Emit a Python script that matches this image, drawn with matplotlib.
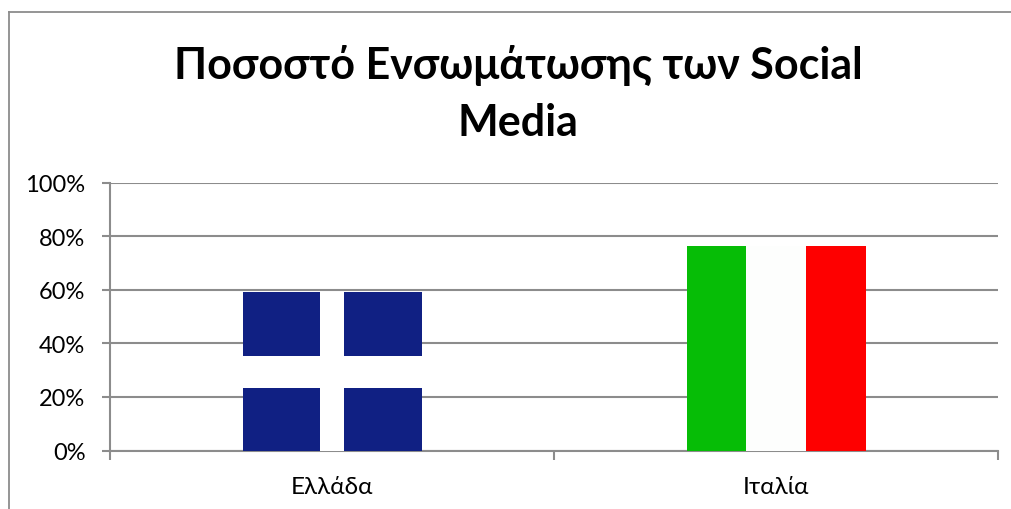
import matplotlib
matplotlib.use("Agg")
import matplotlib.pyplot as plt
from matplotlib.lines import Line2D

categories = ["Ελλάδα", "Ιταλία"]
greece_value = 59
italy_value = 76.5
cross_low = 23.5
cross_high = 35.3
yticks = [0, 20, 40, 60, 80, 100]

plt.rcParams["font.family"] = ["Lato", "Open Sans", "DejaVu Sans"]

W, H = 1012, 510
fig = plt.figure(figsize=(W / 100, H / 100), dpi=100)
ax = fig.add_axes([110.5 / W, 1 - 451.6 / H, 887.5 / W, 268 / H])

blue = "#102083"
green = "#06BD06"
red = "#FE0000"
grey = "#8C8C8C"

# each flag sits centred in its category slot
col = 0.1345
gap = 0.054
g_w = 0.1746
g_left = -(gap + g_w) / 2
g_right = (gap + g_w) / 2
ax.bar([g_left, g_right], [cross_low] * 2, width=g_w, color=blue, zorder=3)
ax.bar([g_left, g_right], [greece_value - cross_high] * 2, width=g_w, bottom=cross_high, color=blue, zorder=3)
ax.bar([g_left, g_right], [cross_high - cross_low] * 2, width=g_w, bottom=cross_low, color="white", zorder=3)
ax.bar(0, greece_value, width=gap, color="white", zorder=3)

ax.bar(1 - col, italy_value, width=col, color=green, zorder=3)
ax.bar(1, italy_value, width=col, color="#FDFEFD", zorder=3)
ax.bar(1 + col, italy_value, width=col, color=red, zorder=3)

ax.set_xlim(-0.5, 1.5)
ax.set_ylim(0, 100)
ax.set_yticks(yticks)
ax.set_yticklabels([f"{t}%" for t in yticks], fontsize=17)
ax.set_xticks([-0.5, 0.5, 1.5])
ax.set_xticklabels([])
ax.set_xticks([0, 1], minor=True)
ax.set_xticklabels(categories, minor=True, fontsize=17.5)
ax.tick_params(axis="y", length=6, width=1.5, color=grey, pad=12)
ax.tick_params(axis="x", which="major", length=6.5, width=1.5, color=grey)
ax.tick_params(axis="x", which="minor", length=0, pad=18.5)
ax.grid(axis="y", color=grey, linewidth=1.5, zorder=1)
ax.set_axisbelow(True)

for side in ["top", "right"]:
    ax.spines[side].set_visible(False)
for side in ["left", "bottom"]:
    ax.spines[side].set_color(grey)
    ax.spines[side].set_linewidth(1.5)

fig.text(518 / W, 1 - 94 / H, "Ποσοστό Ενσωμάτωσης των Social\nMedia",
         ha="center", va="center", fontsize=31, fontweight="bold", linespacing=1.5)

# outer chart border
fig.add_artist(Line2D([8.5 / W, 8.5 / W], [0, 1 - 12.5 / H], color=grey, linewidth=1.3))
fig.add_artist(Line2D([8.5 / W, 1], [1 - 12.5 / H, 1 - 12.5 / H], color=grey, linewidth=1.3))

fig.savefig("out.png", dpi=100)
